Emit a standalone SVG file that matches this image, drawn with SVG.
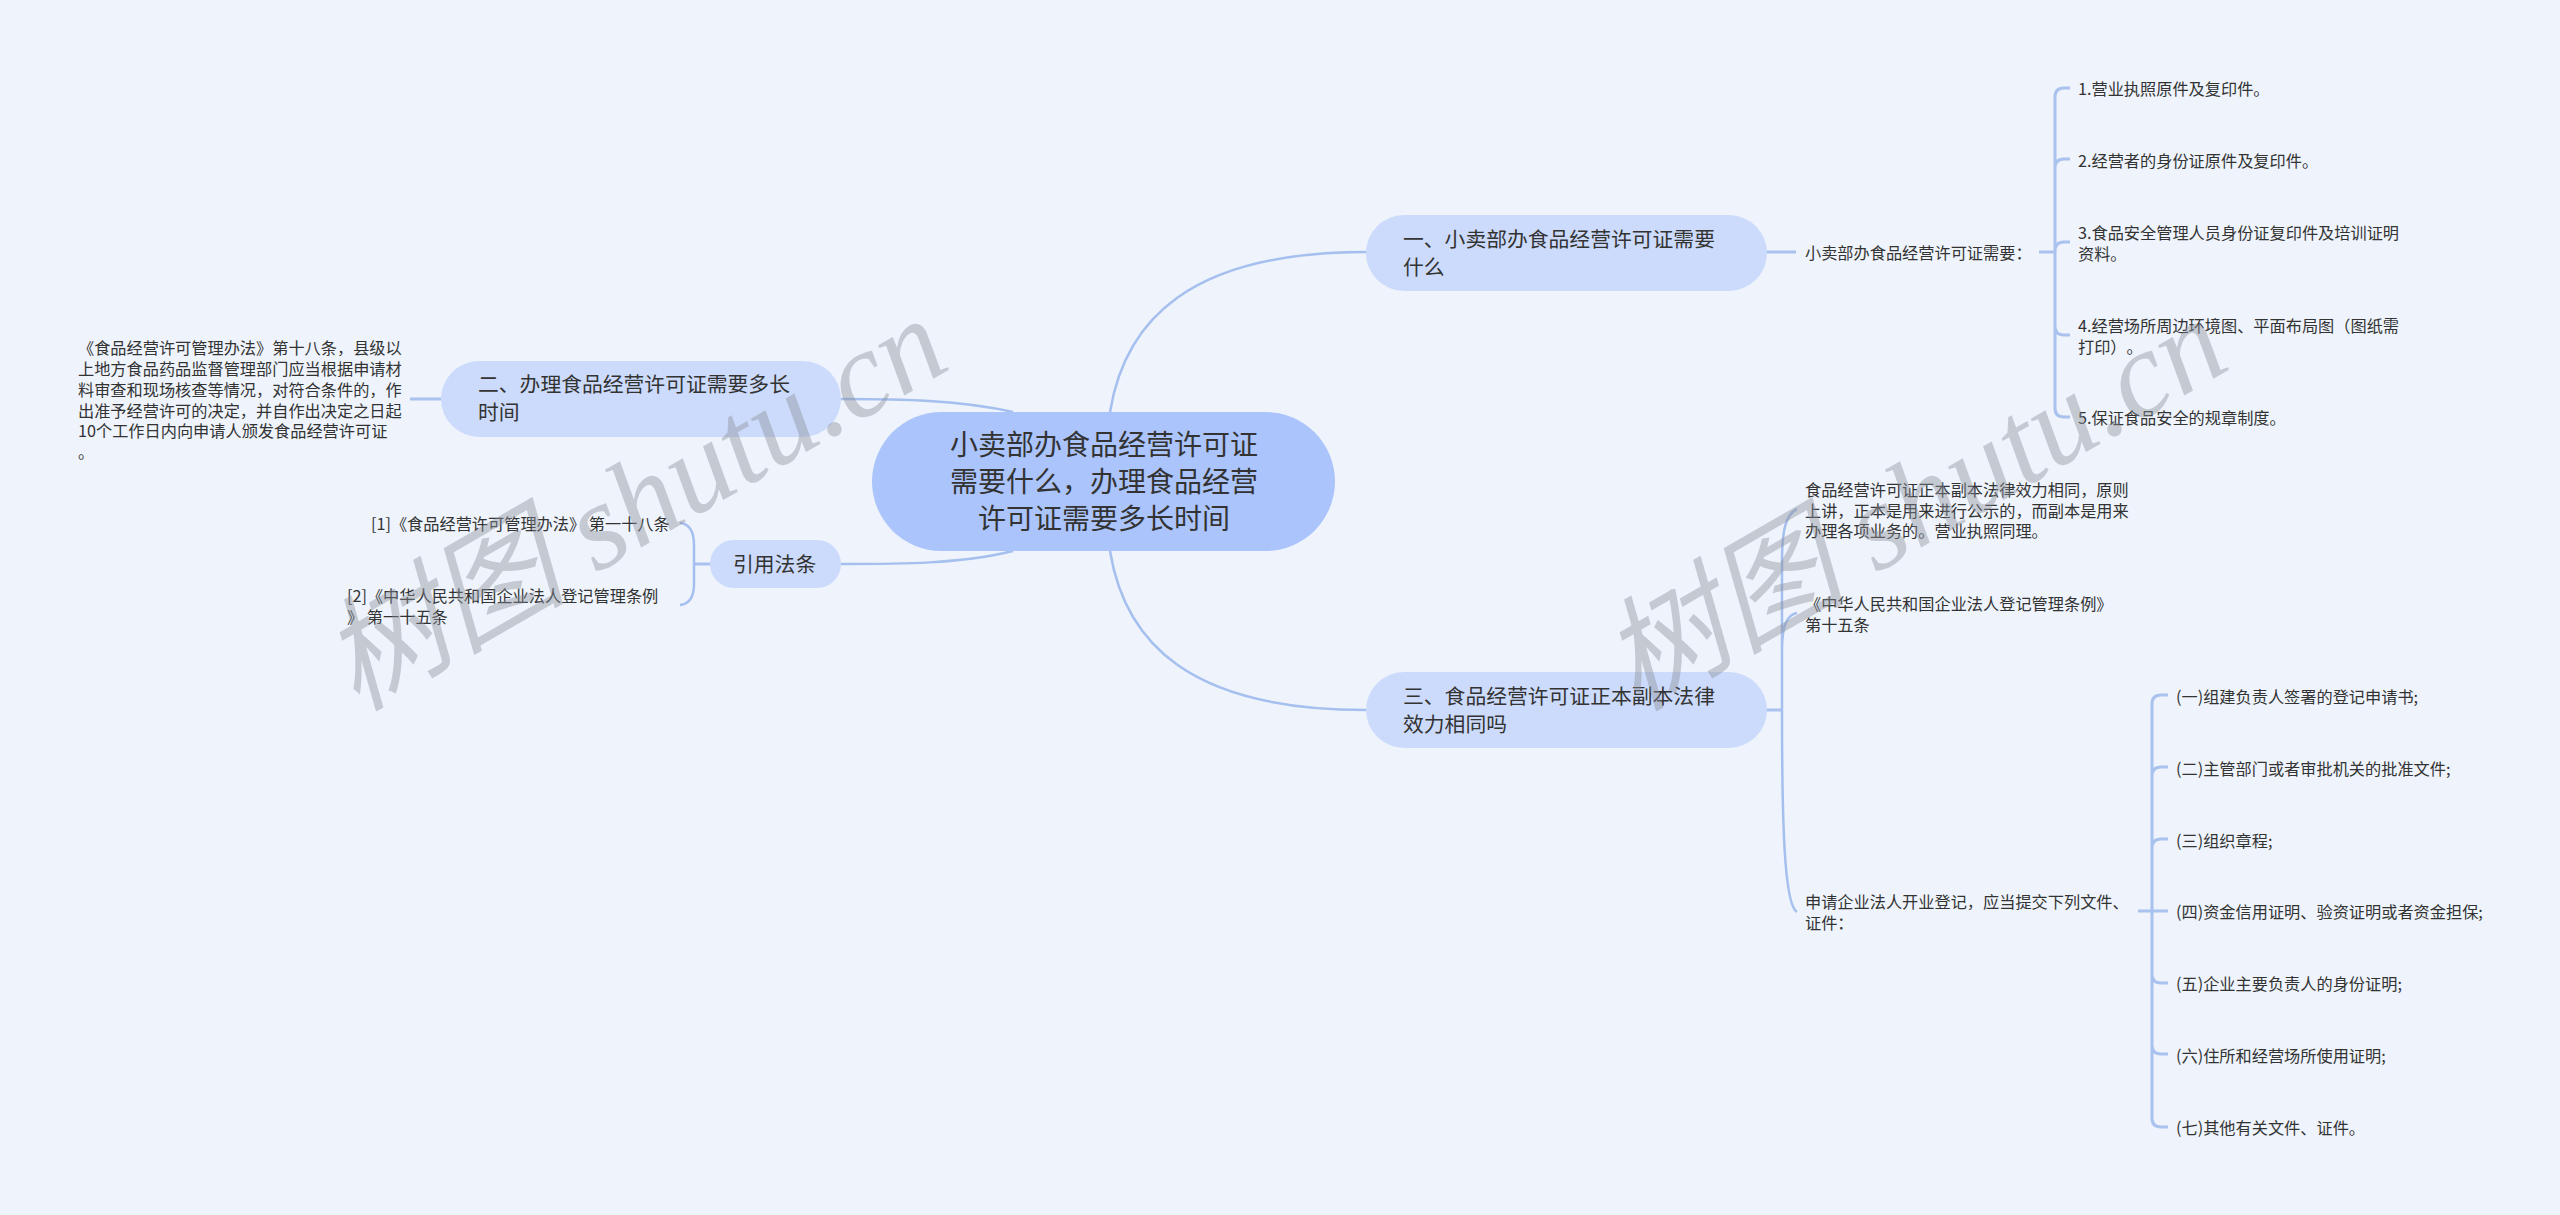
<svg xmlns="http://www.w3.org/2000/svg" width="2560" height="1215" viewBox="0 0 2560 1215">
<style>
text{font-family:"Noto Sans CJK SC","Noto Sans",sans-serif;fill:#333;text-spacing-trim:space-all}
.s{font-size:16.2px}.m{font-size:20.8px}.c{font-size:28px;text-anchor:middle}
.r{fill:#ccdbfb}.l{fill:none;stroke:#a5bfee;stroke-width:2.5}.lt{fill:none;stroke:#a9c2ee;stroke-width:3}
.w{font-family:"Liberation Serif","Noto Sans CJK SC",serif;font-style:italic;font-size:123px;fill:#8a8f99;fill-opacity:.42}
</style>
<rect width="2560" height="1215" fill="#eef3fc"/>
<g id="connectors">
<path class="l" d="M1110 412C1125 320 1190 252 1366 252"/>
<path class="l" d="M1110 551C1125 643 1190 710 1366 710"/>
<path class="l" d="M841 399C900 399 960 400 1013 412"/>
<path class="l" d="M841 564C900 564 960 564 1013 551"/>
<path class="lt" d="M410 399H441"/>
<path class="lt" d="M710 564H694"/>
<path class="l" d="M680 523C690 524 694 532 694 545V584C694 596 690 604 680 605"/>
<path class="lt" d="M1766 252H1796"/>
<path class="lt" d="M2039 252H2055"/>
<path class="lt" d="M2070 88H2064Q2055 88 2055 97V408Q2055 417 2064 417H2070M2055 168Q2055 159 2064 159H2070M2055 251Q2055 242 2064 242H2070M2055 326Q2055 335 2064 335H2070"/>
<path class="lt" d="M1767 710H1782"/>
<path class="l" d="M1797 509C1786 514 1782 530 1782 560V710C1782 820 1784 905 1797 912M1797 613C1787 615 1782 625 1782 650"/>
<path class="lt" d="M2138 911H2168"/>
<path class="lt" d="M2168 695H2161Q2152 695 2152 704V1118Q2152 1127 2161 1127H2168M2152 776Q2152 767 2161 767H2168M2152 848Q2152 839 2161 839H2168M2152 974Q2152 983 2161 983H2168M2152 1045Q2152 1054 2161 1054H2168"/>
</g>
<g id="root"><rect x="872" y="412" width="463" height="139" rx="69.5" fill="#abc4fb"/>
<text class="c" x="1104" y="455">小卖部办食品经营许可证</text><text class="c" x="1104" y="492">需要什么，办理食品经营</text><text class="c" x="1104" y="529">许可证需要多长时间</text></g>
<g id="n1"><rect class="r" x="1366" y="215" width="401" height="76" rx="38"/>
<text class="m" x="1403" y="247">一、小卖部办食品经营许可证需要</text><text class="m" x="1403" y="275">什么</text></g>
<g id="n2"><rect class="r" x="441" y="361" width="400" height="76" rx="38"/>
<text class="m" x="478" y="392">二、办理食品经营许可证需要多长</text><text class="m" x="478" y="420">时间</text></g>
<g id="n3"><rect class="r" x="1366" y="672" width="401" height="76" rx="38"/>
<text class="m" x="1403" y="704">三、食品经营许可证正本副本法律</text><text class="m" x="1403" y="732">效力相同吗</text></g>
<g id="n4"><rect class="r" x="710" y="540" width="131" height="48" rx="24"/>
<text class="m" x="733" y="572">引用法条</text></g>
<g id="t-left"><text class="s" x="78" y="354">《食品经营许可管理办法》第十八条，县级以</text><text class="s" x="78" y="375">上地方食品药品监督管理部门应当根据申请材</text><text class="s" x="78" y="396">料审查和现场核查等情况，对符合条件的，作</text><text class="s" x="78" y="417">出准予经营许可的决定，并自作出决定之日起</text><text class="s" x="78" y="437">10个工作日内向申请人颁发食品经营许可证</text><text class="s" x="78" y="458">。</text></g>
<g id="t-ref1"><text class="s" x="371" y="530">[1]《食品经营许可管理办法》 第一十八条</text></g>
<g id="t-ref2"><text class="s" x="347" y="602">[2]《中华人民共和国企业法人登记管理条例</text><text class="s" x="347" y="623">》 第一十五条</text></g>
<g id="t-a"><text class="s" x="1805" y="259">小卖部办食品经营许可证需要：</text></g>
<g id="t-a1"><text class="s" x="2078" y="95">1.营业执照原件及复印件。</text></g>
<g id="t-a2"><text class="s" x="2078" y="167">2.经营者的身份证原件及复印件。</text></g>
<g id="t-a3"><text class="s" x="2078" y="239">3.食品安全管理人员身份证复印件及培训证明</text><text class="s" x="2078" y="260">资料。</text></g>
<g id="t-a4"><text class="s" x="2078" y="332">4.经营场所周边环境图、平面布局图（图纸需</text><text class="s" x="2078" y="353">打印）。</text></g>
<g id="t-a5"><text class="s" x="2078" y="424">5.保证食品安全的规章制度。</text></g>
<g id="t-b1"><text class="s" x="1805" y="496">食品经营许可证正本副本法律效力相同，原则</text><text class="s" x="1805" y="517">上讲，正本是用来进行公示的，而副本是用来</text><text class="s" x="1805" y="537">办理各项业务的。营业执照同理。</text></g>
<g id="t-b2"><text class="s" x="1805" y="610">《中华人民共和国企业法人登记管理条例》</text><text class="s" x="1805" y="631">第十五条</text></g>
<g id="t-b3"><text class="s" x="1805" y="908">申请企业法人开业登记，应当提交下列文件、</text><text class="s" x="1805" y="929">证件：</text></g>
<g id="t-c1"><text class="s" x="2176" y="703">(一)组建负责人签署的登记申请书;</text></g>
<g id="t-c2"><text class="s" x="2176" y="775">(二)主管部门或者审批机关的批准文件;</text></g>
<g id="t-c3"><text class="s" x="2176" y="847">(三)组织章程;</text></g>
<g id="t-c4"><text class="s" x="2176" y="918">(四)资金信用证明、验资证明或者资金担保;</text></g>
<g id="t-c5"><text class="s" x="2176" y="990">(五)企业主要负责人的身份证明;</text></g>
<g id="t-c6"><text class="s" x="2176" y="1062">(六)住所和经营场所使用证明;</text></g>
<g id="t-c7"><text class="s" x="2176" y="1134">(七)其他有关文件、证件。</text></g>
<g id="watermark"><text class="w" transform="translate(356 712) rotate(-30)">树图 shutu.cn</text><text class="w" transform="translate(1636 712) rotate(-30)">树图 shutu.cn</text></g>
</svg>
